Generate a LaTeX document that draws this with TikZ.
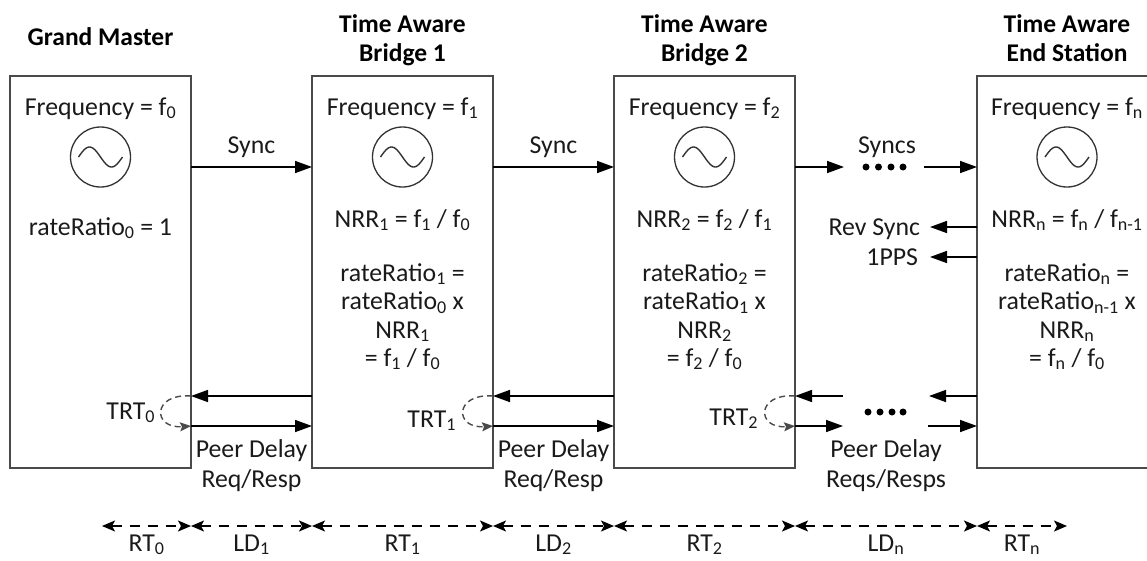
\documentclass[tikz,border=0pt]{standalone}
\usepackage{fontspec}
\setmainfont{Carlito}
\usetikzlibrary{arrows.meta}
\definecolor{boxc}{HTML}{4A4A4A}
\definecolor{oscc}{HTML}{333333}
\definecolor{txt}{HTML}{1A1A1A}
\newcommand\sbs[1]{\textsubscript{#1}}
\begin{document}
\begin{tikzpicture}[x=1pt,y=-1pt,
  every node/.style={inner sep=0pt, outer sep=0pt},
  lbl/.style={font=\fontsize{25.8}{28}\selectfont, text=txt, anchor=base},
  head/.style={font=\fontsize{25.5}{29}\selectfont\bfseries, text=black, anchor=base},
  box/.style={draw=boxc, line width=2.2pt, minimum width=181pt, minimum height=392pt},
  osc/.style={circle, draw=oscc, line width=1.3pt, minimum size=60pt},
  tilde/.style={draw=oscc, line width=1.4pt},
  arr/.style={draw=black, line width=1.6pt, -{Triangle[length=17pt,width=12pt]}},
  loopd/.style={draw=boxc, line width=1.4pt, dash pattern=on 6pt off 4pt, -{Stealth[length=11pt,width=9pt,inset=2pt]}},
  dim/.style={draw=black, line width=1.5pt, dash pattern=on 10pt off 8pt,
    {Stealth[length=13pt,width=11pt,inset=3pt]}-{Stealth[length=13pt,width=11pt,inset=3pt]}},
  dotc/.style={circle, fill=black, minimum size=7pt},
]
\useasboundingbox (0,0) rectangle (1147,560);

% level coordinates
\coordinate (ySync) at (0,167);
\coordinate (yRev) at (0,227);
\coordinate (yPPS) at (0,257);
\coordinate (yUp) at (0,396);
\coordinate (yLo) at (0,426);
\coordinate (yDim) at (0,526);

% boxes
\node[box] (b1) at (100.5,272) {};
\node[box] (b2) at (402.5,272) {};
\node[box] (b3) at (704.5,272) {};
\node[box] (b4) at (1067.5,272) {};

% headings
\node[head] (h1) at (100.5,45) {Grand Master};
\node[head] (h2a) at (402.5,32) {Time Aware};
\node[head] (h2b) at (402.5,61) {Bridge 1};
\node[head] (h3a) at (704.5,32) {Time Aware};
\node[head] (h3b) at (704.5,61) {Bridge 2};
\node[head] (h4a) at (1067,32) {Time Aware};
\node[head] (h4b) at (1067,61) {End Station};

% oscillators
\foreach \n/\cx in {1/100.5,2/402.5,3/704.5,4/1067}{
  \node[osc] (o\n) at (\cx,157) {};
  \draw[tilde, shift={(o\n.center)}] plot[domain=-22:22, samples=45, smooth] (\x,{-10*sin((\x+22)*360/44)});
}

% box 1 text
\node[lbl] (fq1) at (100.5,115) {Frequency = f\sbs{0}};
\node[lbl] (rr1) at (100.5,235) {rateRatio\sbs{0} = 1};

% box 2 text
\node[lbl] (fq2) at (402.5,115) {Frequency = f\sbs{1}};
\node[lbl] (nr2) at (402.5,227) {NRR\sbs{1} = f\sbs{1} / f\sbs{0}};
\node[lbl] (r2a) at (402.5,281) {rateRatio\sbs{1} =};
\node[lbl] (r2b) at (402.5,309.5) {rateRatio\sbs{0} x};
\node[lbl] (r2c) at (402.5,338) {NRR\sbs{1}};
\node[lbl] (r2d) at (402.5,366) {= f\sbs{1} / f\sbs{0}};

% box 3 text
\node[lbl] (fq3) at (704.5,115) {Frequency = f\sbs{2}};
\node[lbl] (nr3) at (704.5,227) {NRR\sbs{2} = f\sbs{2} / f\sbs{1}};
\node[lbl] (r3a) at (704.5,281) {rateRatio\sbs{2} =};
\node[lbl] (r3b) at (704.5,309.5) {rateRatio\sbs{1} x};
\node[lbl] (r3c) at (704.5,338) {NRR\sbs{2}};
\node[lbl] (r3d) at (704.5,366) {= f\sbs{2} / f\sbs{0}};

% box 4 text
\node[lbl] (fq4) at (1067,115) {Frequency = f\sbs{n}};
\node[lbl] (nr4) at (1067,227) {NRR\sbs{n} = f\sbs{n} / f\sbs{n-1}};
\node[lbl] (r4a) at (1067,281) {rateRatio\sbs{n} =};
\node[lbl] (r4b) at (1067,309.5) {rateRatio\sbs{n-1} x};
\node[lbl] (r4c) at (1067,338) {NRR\sbs{n}};
\node[lbl] (r4d) at (1067,366) {= f\sbs{n} / f\sbs{0}};

% sync arrows
\draw[arr] (b1.east |- ySync) -- (b2.west |- ySync);
\node[lbl] (sy1) at (251.5,153) {Sync};
\draw[arr] (b2.east |- ySync) -- (b3.west |- ySync);
\node[lbl] (sy2) at (553.5,153) {Sync};
\coordinate (sa) at (844,167);
\coordinate (sb) at (924,167);
\draw[arr] (b3.east |- ySync) -- (sa);
\draw[arr] (sb) -- (b4.west |- ySync);
\node[lbl] (sy3) at (887,153) {Syncs};
\foreach \i/\dx in {1/866,2/878.5,3/891,4/903}{\node[dotc] (sd\i) at (\dx,167) {};}

% rev sync, 1pps
\coordinate (rv) at (930,227);
\coordinate (pp) at (930,257);
\draw[arr] (b4.west |- yRev) -- (rv);
\draw[arr] (b4.west |- yPPS) -- (pp);
\node[lbl, anchor=base east] (rvt) at (920,235) {Rev Sync};
\node[lbl, anchor=base east] (ppt) at (918,265) {1PPS};

% peer delay arrows
\draw[arr] (b2.west |- yUp) -- (b1.east |- yUp);
\draw[arr] (b1.east |- yLo) -- (b2.west |- yLo);
\draw[arr] (b3.west |- yUp) -- (b2.east |- yUp);
\draw[arr] (b2.east |- yLo) -- (b3.west |- yLo);
\coordinate (pu1) at (843,396);
\coordinate (pl1) at (843,426);
\coordinate (pu2) at (929,396);
\coordinate (pl2) at (928,426);
\draw[arr] (pu1) -- (b3.east |- yUp);
\draw[arr] (b3.east |- yLo) -- (pl1);
\draw[arr] (b4.west |- yUp) -- (pu2);
\draw[arr] (pl2) -- (b4.west |- yLo);
\foreach \i/\dx in {1/868,2/880,3/892,4/903}{\node[dotc] (pd\i) at (\dx,412) {};}

% TRT loops
\draw[loopd] (b1.east |- yUp) .. controls +(-39,-3) and +(-39,3) .. (b1.east |- yLo);
\draw[loopd] (b2.east |- yUp) .. controls +(-39,-3) and +(-39,3) .. (b2.east |- yLo);
\draw[loopd] (b3.east |- yUp) .. controls +(-39,-3) and +(-39,3) .. (b3.east |- yLo);
\node[lbl, anchor=base east] (trt0) at (155,419) {TRT\sbs{0}};
\node[lbl, anchor=base east] (trt1) at (456,427) {TRT\sbs{1}};
\node[lbl, anchor=base east] (trt2) at (758,425) {TRT\sbs{2}};

% peer delay labels
\node[lbl] (pdl1a) at (251.5,457) {Peer Delay};
\node[lbl] (pdl1b) at (251.5,487) {Req/Resp};
\node[lbl] (pdl2a) at (553.5,457) {Peer Delay};
\node[lbl] (pdl2b) at (553.5,487) {Req/Resp};
\node[lbl] (pdl3a) at (886,457) {Peer Delay};
\node[lbl] (pdl3b) at (886,487) {Reqs/Resps};

% dimension arrows
\coordinate (d0) at (102,526);
\coordinate (d9) at (1067,526);
\draw[dim] (d0) -- (b1.east |- yDim);
\draw[dim] (b1.east |- yDim) -- (b2.west |- yDim);
\draw[dim] (b2.west |- yDim) -- (b2.east |- yDim);
\draw[dim] (b2.east |- yDim) -- (b3.west |- yDim);
\draw[dim] (b3.west |- yDim) -- (b3.east |- yDim);
\draw[dim] (b3.east |- yDim) -- (b4.west |- yDim);
\draw[dim] (b4.west |- yDim) -- (d9);
\node[lbl] (l0) at (146.5,551) {RT\sbs{0}};
\node[lbl] (l1) at (251.5,551) {LD\sbs{1}};
\node[lbl] (l2) at (402.5,551) {RT\sbs{1}};
\node[lbl] (l3) at (553.5,551) {LD\sbs{2}};
\node[lbl] (l4) at (704.5,551) {RT\sbs{2}};
\node[lbl] (l5) at (886,551) {LD\sbs{n}};
\node[lbl] (l6) at (1022,551) {RT\sbs{n}};
\end{tikzpicture}
\end{document}
